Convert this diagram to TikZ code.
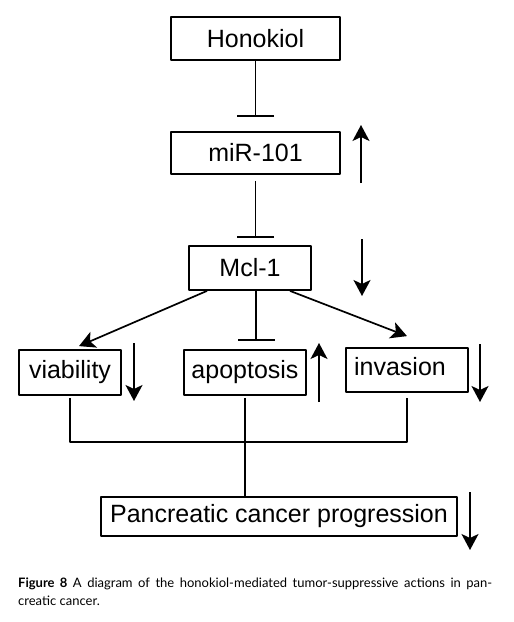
\documentclass[tikz,border=0pt]{standalone}
\usepackage{fontspec}
\setmainfont{Liberation Sans}
\newfontfamily\capfont{Lato}
\usetikzlibrary{arrows.meta}
\begin{document}
\begin{tikzpicture}[x=1pt, y=-1pt, line join=round, >={Stealth[length=16pt,width=17pt,inset=4pt]}]
	\tikzset{box/.style={draw, line width=1.8pt, inner sep=0pt, font=\fontsize{25}{30}\selectfont},
		inh/.style={line width=1.7pt, -{Bar[width=37pt]}},
		act/.style={line width=1.7pt, ->},
		capline/.style={anchor=base west, inner sep=0pt, font=\capfont\fontsize{13}{18}\selectfont}}
	\useasboundingbox (0,0) rectangle (514,622);
	\node[box, minimum width=169, minimum height=43] (hon) at (255.5,38.5) {Honokiol};
	\node[box, minimum width=169, minimum height=42] (mir) at (255.5,153) {miR-101};
	\node[box, minimum width=122, minimum height=44] (mcl) at (250,268) {Mcl-1};
	\node[box, minimum width=102, minimum height=45] (via) at (70,372.5) {viability};
	\node[box, minimum width=122, minimum height=45] (apo) at (245,372.5) {apoptosis};
	\node[box, minimum width=122, minimum height=44, label={[font=\fontsize{25}{30}\selectfont, xshift=-7pt, yshift=3pt]center:invasion}] (inv) at (407,370) {};
	\node[box, minimum width=356, minimum height=39] (pcp) at (279,516.5) {Pancreatic cancer progression};
	\draw[inh, shorten >=14pt] (hon.south) -- (mir.north);
	\draw[inh, shorten <=6pt, shorten >=7pt] (mir.south) -- (mir.south |- mcl.north);
	\draw[act] ([xshift=-43pt]mcl.south) -- ([xshift=9pt, yshift=3pt]via.north);
	\draw[inh, shorten >=8pt] ([xshift=6pt]mcl.south) -- ([xshift=6pt]mcl.south |- apo.north);
	\draw[act] ([xshift=40pt]mcl.south) -- ([yshift=11pt]inv.north);
	\coordinate (jn) at (0,442);
	\draw[line width=1.7pt] ([yshift=-2pt]via.south) |- (jn -| inv.south) -- ([yshift=-5pt]inv.south);
	\draw[line width=1.7pt] ([yshift=-2pt]apo.south) -- (apo.south |- pcp.north);
	\foreach \x/\ya/\yb in {361/183/125, 362/239/296, 134/343/401, 319/402/343, 480/344/402, 470/492/550}
		\draw[act] (\x,\ya) -- (\x,\yb);
	\node[capline] (cap1) at (18,587) {\makebox[474pt][s]{\textbf{Figure 8} A diagram of the honokiol-mediated tumor-suppressive actions in pan-}};
	\node[capline] (cap2) at (18,605) {creatic cancer.};
\end{tikzpicture}
\end{document}
